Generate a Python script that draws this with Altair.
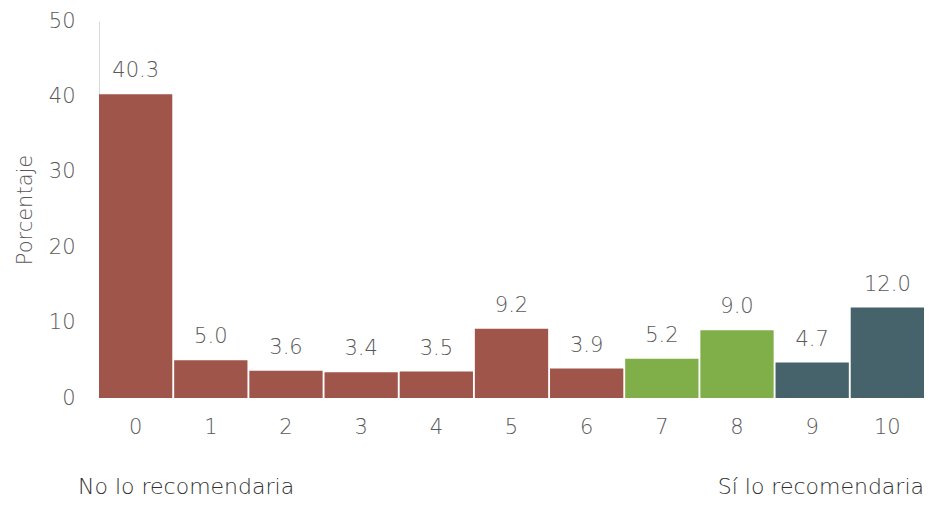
import altair as alt
import pandas as pd

categories = ["0", "1", "2", "3", "4", "5", "6", "7", "8", "9", "10"]
values = [40.3, 5.0, 3.6, 3.4, 3.5, 9.2, 3.9, 5.2, 9.0, 4.7, 12.0]
groups = ["no", "no", "no", "no", "no", "no", "no", "mid", "mid", "yes", "yes"]
group_domain = ["no", "mid", "yes"]
group_colors = ["#A0554A", "#80AF4A", "#46636C"]

df = pd.DataFrame({"cat": categories, "val": values, "grp": groups})
df["label"] = [f"{v:.1f}" for v in values]

FONT = "DejaVu Sans"
W = 200
GRAY = "#595959"

x = alt.X("cat:N", sort=categories, title=None,
          scale=alt.Scale(paddingInner=0.025, paddingOuter=0),
          axis=alt.Axis(labelAngle=0, labelFontSize=21, labelColor=GRAY, labelFont=FONT,
                        labelFontWeight=W, ticks=False, domain=False, labelPadding=18))
y = alt.Y("val:Q", title="Porcentaje",
          scale=alt.Scale(domain=[0, 50]),
          axis=alt.Axis(values=[0, 10, 20, 30, 40, 50], grid=False, ticks=False,
                        domainColor="#D9D9D9", labelFontSize=21, labelColor=GRAY,
                        labelFont=FONT, labelFontWeight=W, labelPadding=24,
                        titleFontSize=21, titleColor=GRAY, titleFont=FONT,
                        titleFontWeight=W, titlePadding=13))

bars = alt.Chart(df).mark_bar().encode(
    x=x, y=y,
    color=alt.Color("grp:N", scale=alt.Scale(domain=group_domain, range=group_colors), legend=None),
)

labels = alt.Chart(df).mark_text(
    baseline="alphabetic", dy=-17, fontSize=21, font=FONT, fontWeight=W, color=GRAY
).encode(x=alt.X("cat:N", sort=categories), y="val:Q", text="label:N")

left_note = alt.Chart(pd.DataFrame({"t": ["No lo recomendaria"]})).mark_text(
    align="left", baseline="middle", fontSize=22, font=FONT, fontWeight=W, color="#303030"
).encode(x=alt.value(-21), y=alt.value(466), text="t:N")

right_note = alt.Chart(pd.DataFrame({"t": ["Sí lo recomendaria"]})).mark_text(
    align="right", baseline="middle", fontSize=22, font=FONT, fontWeight=W, color="#303030"
).encode(x=alt.value(825), y=alt.value(466), text="t:N")

chart = alt.layer(bars, labels, left_note, right_note).properties(
    width=825, height=377,
    autosize=alt.AutoSizeParams(type="none"),
    padding={"left": 91, "top": 13, "right": 0, "bottom": 100},
).configure_view(stroke=None)

chart.save("out.html", embed_options={"renderer": "svg", "actions": False})
